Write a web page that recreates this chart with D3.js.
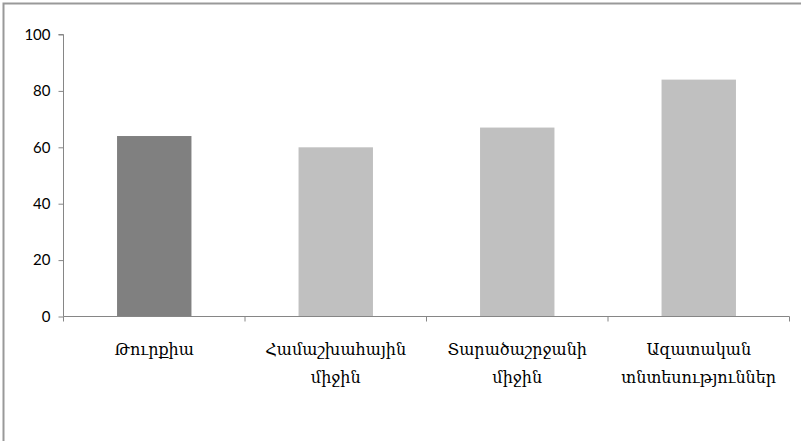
<!DOCTYPE html>
<html><head><meta charset="utf-8">
<script src="https://cdn.jsdelivr.net/npm/d3@7"></script>
<style>body{margin:0;background:#fff}svg{display:block}</style>
</head><body>
<script>
const categories = [["Թուրքիա"], ["Համաշխահային", "միջին"], ["Տարածաշրջանի", "միջին"], ["Ազատական", "տնտեսություններ"]];
const values = [64, 60, 67, 84];
const colors = ["#808080", "#c0c0c0", "#c0c0c0", "#c0c0c0"];
const yTicks = [0, 20, 40, 60, 80, 100];

const W = 801, H = 441;
const svg = d3.select("body").append("svg").attr("width", W).attr("height", H);
svg.append("rect").attr("width", W).attr("height", H).attr("fill", "#fff");
// outer frame (top and left visible)
svg.append("path").attr("d", `M3.5,${H} V3.5 H${W}`).attr("fill", "none").attr("stroke", "#999").attr("stroke-width", 2);

const x0 = 63.5, x1 = 789.5, yTop = 34.5, yBot = 316.5;
const x = d3.scaleBand().domain(d3.range(categories.length)).range([x0, x1]).paddingInner(0.59).paddingOuter(0.295);
const y = d3.scaleLinear().domain([0, 100]).range([yBot, yTop]);

svg.selectAll("rect.bar").data(values).enter().append("rect")
  .attr("class", "bar")
  .attr("x", (d, i) => x(i)).attr("width", x.bandwidth())
  .attr("y", d => y(d)).attr("height", d => yBot - y(d))
  .attr("fill", (d, i) => colors[i]);

// y axis
const yAxis = svg.append("g").attr("transform", `translate(${x0},0)`)
  .call(d3.axisLeft(y).tickValues(yTicks).tickSize(5).tickPadding(8));
yAxis.select(".domain").attr("stroke", "#868686").attr("d", `M-5,${yTop}H0V${yBot}`);
yAxis.selectAll(".tick line").attr("stroke", "#868686");
yAxis.selectAll("text").attr("font-family", "Lato, 'Open Sans', sans-serif").attr("font-size", 15).attr("fill", "#000");

// x axis
const xb = d3.scaleLinear().domain([0, categories.length]).range([x0, x1]);
const xAxisG = svg.append("g").attr("transform", `translate(0,${yBot})`);
xAxisG.append("line").attr("x1", x0).attr("x2", x1).attr("stroke", "#868686");
xAxisG.selectAll("line.t").data(d3.range(categories.length + 1)).enter().append("line")
  .attr("class", "t").attr("x1", d => xb(d)).attr("x2", d => xb(d)).attr("y1", 0).attr("y2", 5).attr("stroke", "#868686");

const lab = svg.append("g");
categories.forEach((lines, i) => {
  lines.forEach((t, j) => {
    lab.append("text").attr("x", x(i) + x.bandwidth() / 2).attr("y", 355 + j * 28)
      .attr("text-anchor", "middle").attr("font-family", "'DejaVu Serif', serif").attr("font-size", 16)
      .attr("fill", "#000").text(t);
  });
});
</script>
</body></html>
